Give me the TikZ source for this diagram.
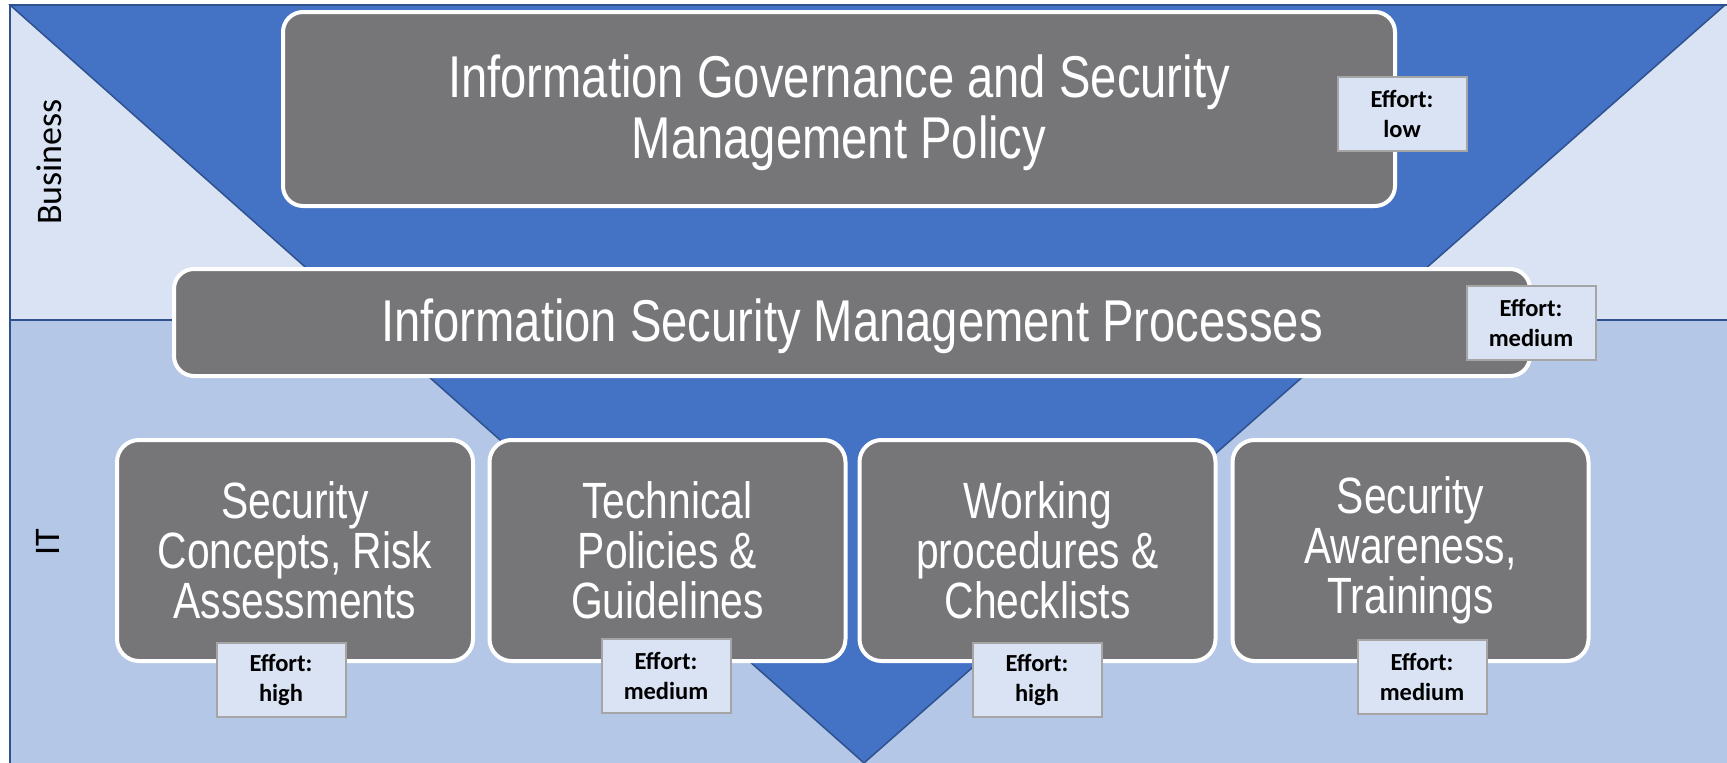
\documentclass[tikz,border=0pt]{standalone}
\usepackage{fontspec}
\newfontfamily\narrowfont{Liberation Sans}[FakeStretch=0.8]
\newfontfamily\calibri{Carlito}
\definecolor{bizblue}{HTML}{DAE3F3}
\definecolor{itblue}{HTML}{B4C7E7}
\definecolor{triblue}{HTML}{4472C4}
\definecolor{edgeblue}{HTML}{2F528F}
\definecolor{boxgray}{HTML}{767679}
\definecolor{effgray}{HTML}{A5A5A5}
\tikzset{
  graybox/.style={draw=white, line width=4pt, fill=boxgray, rounded corners=20pt,
    text=white, align=center, inner sep=0pt},
  boxtext/.style={text=white, align=center, inner sep=0pt},
  effbox/.style={draw=effgray, line width=2pt, fill=bizblue, align=center,
    inner sep=0pt, minimum width=129pt, minimum height=74pt,
    font=\calibri\bfseries\fontsize{24.5}{30}\selectfont},
  sidelabel/.style={font=\calibri\fontsize{36}{40}\selectfont, rotate=90}
}
\begin{document}
\begin{tikzpicture}[x=1pt,y=-1pt]
\useasboundingbox (0,0) rectangle (1727,763);
% bands
\fill[bizblue] (10,5) rectangle (1727,320);
\fill[itblue] (10,320) rectangle (1727,763);
\draw[edgeblue, line width=2pt] (10,320) -- (1727,320);
% big inverted triangle
\filldraw[fill=triblue, draw=edgeblue, line width=1.5pt, line join=miter]
  (10,5) -- (1725,5) -- (864,763) -- cycle;
% frame
\draw[edgeblue, line width=2pt] (10,763) -- (10,5) -- (1727,5);
% main boxes
\node[graybox, minimum width=1112pt, minimum height=194pt] (gov) at (839,109) {};
\node[boxtext, font=\narrowfont\fontsize{59}{61}\selectfont] (govtext) at (839,112.4)
  {Information Governance and Security\\Management Policy};
\node[graybox, minimum width=1356pt, minimum height=107pt] (proc) at (852,322.5) {};
\node[boxtext, anchor=base, font=\narrowfont\fontsize{59}{60}\selectfont] (proctext) at (852,341)
  {Information Security Management Processes};
\tikzset{lowbox/.style={graybox, minimum width=356pt, minimum height=221pt,
  rounded corners=22pt, font=\narrowfont\fontsize{51}{50}\selectfont}}
\node[lowbox] (sec) at (295,550.5) {Security\\Concepts, Risk\\Assessments};
\node[lowbox] (tech) at (667.5,550.5) {Technical\\Policies \&\\Guidelines};
\node[lowbox] (work) at (1037.5,550.5) {Working\\procedures \&\\Checklists};
\node[lowbox] (aware) at (1410.5,550.5) {Security\\Awareness,\\Trainings};
% effort labels
\node[effbox] (e1) at (1402,113.5) {Effort:\\low};
\node[effbox] (e2) at (1531,322.5) {Effort:\\medium};
\node[effbox] (e3) at (281,679.5) {Effort:\\high};
\node[effbox] (e4) at (666,676) {Effort:\\medium};
\node[effbox] (e5) at (1037,679.5) {Effort:\\high};
\node[effbox] (e6) at (1422,676.5) {Effort:\\medium};
% side labels
\node[sidelabel] (biz) at (49,162) {Business};
\node[sidelabel] (it) at (48,542) {IT};
\end{tikzpicture}
\end{document}
